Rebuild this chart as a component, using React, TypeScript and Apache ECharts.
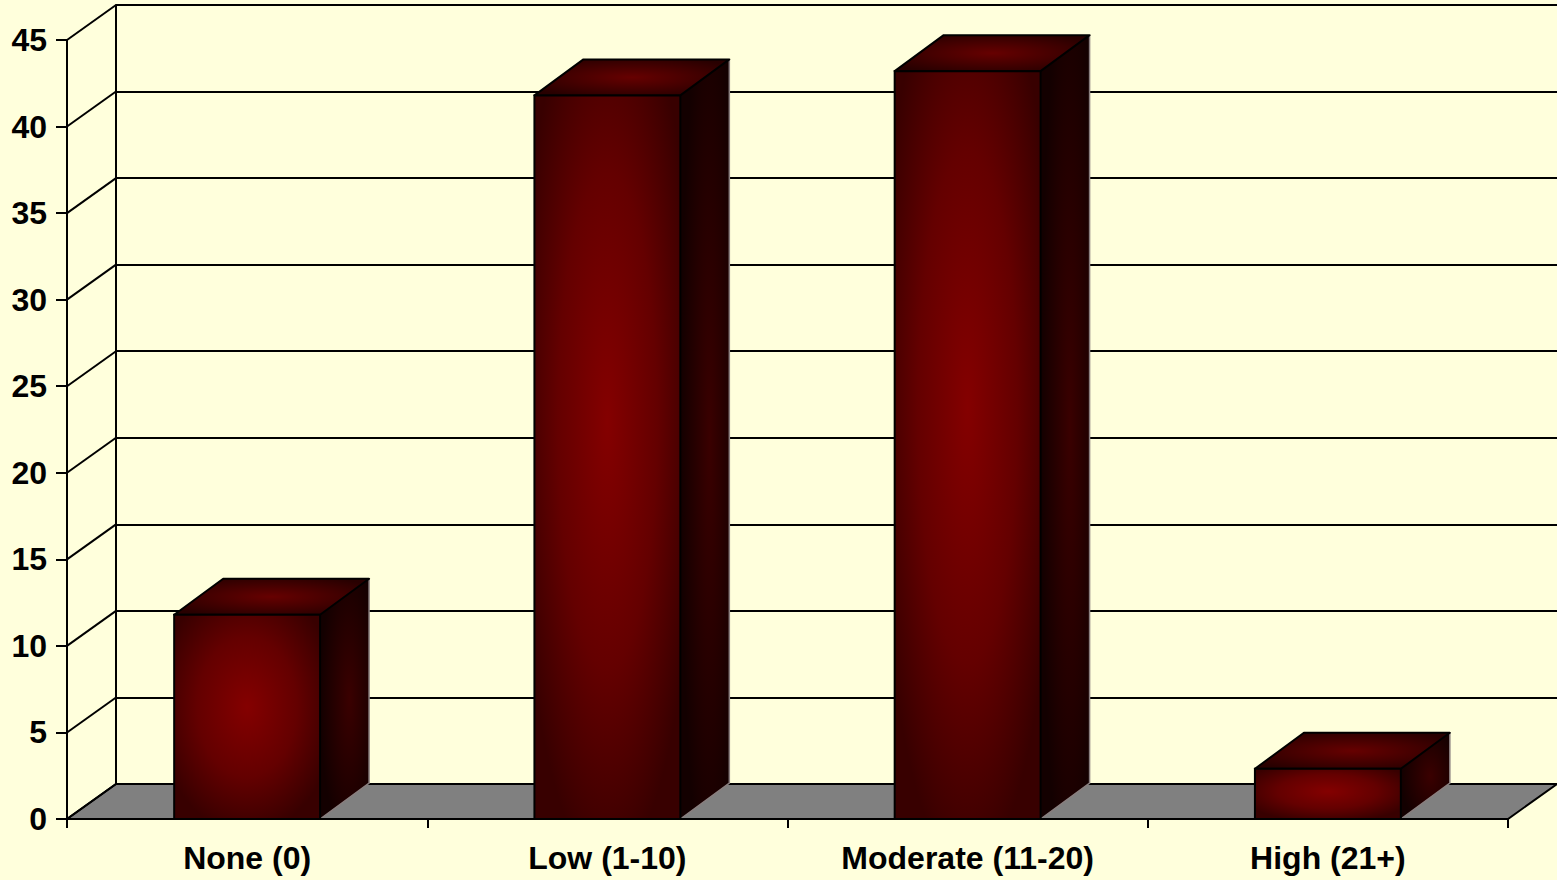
import React, { useEffect, useRef } from 'react';
import * as echarts from 'echarts';

const categories = ['None (0)', 'Low (1-10)', 'Moderate (11-20)', 'High (21+)'];
const values = [11.8, 41.8, 43.2, 2.9];
const yTicks = [0, 5, 10, 15, 20, 25, 30, 35, 40, 45];

const DX = 49;
const DY = -35;
const BAR_DY = -36;
const BAR_RATIO = 0.405;
const FONT = "'Liberation Sans', Arial, sans-serif";

export default function App() {
  const ref = useRef<HTMLDivElement>(null);

  useEffect(() => {
    document.body.style.margin = '0';
    document.body.style.overflow = 'hidden';
    const chart = echarts.init(ref.current as HTMLDivElement, null, { renderer: 'svg' });

    const frontGrad = () =>
      new echarts.graphic.RadialGradient(0.5, 0.45, 0.62, [
        { offset: 0, color: '#840000' },
        { offset: 0.55, color: '#640000' },
        { offset: 1, color: '#380000' },
      ]);
    const topGrad = () =>
      new echarts.graphic.RadialGradient(0.5, 0.5, 0.6, [
        { offset: 0, color: '#660000' },
        { offset: 1, color: '#280000' },
      ]);
    const sideGrad = () =>
      new echarts.graphic.RadialGradient(0.6, 0.5, 0.6, [
        { offset: 0, color: '#3a0000' },
        { offset: 1, color: '#130000' },
      ]);

    const axisLineStyle = { color: '#000', width: 2 };

    const option = {
      animation: false,
      backgroundColor: '#FFFFDC',
      grid: [
        { left: 67, right: 49, top: 40, bottom: 61 },
        { left: 116, right: 0, top: 5, bottom: 96 },
      ],
      xAxis: [
        {
          type: 'category',
          gridIndex: 0,
          data: categories,
          boundaryGap: true,
          z: 10,
          axisLine: { show: true, lineStyle: axisLineStyle },
          axisTick: { show: true, length: 9, lineStyle: axisLineStyle },
          axisLabel: {
            interval: 0,
            color: '#000',
            fontFamily: FONT,
            fontWeight: 'bold',
            fontSize: 32,
            margin: 23,
          },
          splitLine: { show: false },
        },
        {
          type: 'category',
          gridIndex: 1,
          data: categories,
          show: false,
        },
      ],
      yAxis: [
        {
          type: 'value',
          gridIndex: 0,
          min: 0,
          max: 45,
          interval: 5,
          z: 10,
          axisLine: { show: true, lineStyle: axisLineStyle },
          axisTick: { show: true, length: 11, lineStyle: axisLineStyle },
          axisLabel: {
            color: '#000',
            fontFamily: FONT,
            fontWeight: 'bold',
            fontSize: 32,
            margin: 20,
          },
          splitLine: { show: false },
        },
        {
          type: 'value',
          gridIndex: 1,
          min: 0,
          max: 45,
          interval: 5,
          z: 0,
          axisLine: { show: true, lineStyle: axisLineStyle },
          axisTick: { show: false },
          axisLabel: { show: false },
          splitLine: { show: true, lineStyle: { color: '#000', width: 2 } },
        },
      ],
      series: [
        {
          type: 'custom',
          name: 'floor',
          xAxisIndex: 0,
          yAxisIndex: 0,
          z: 1,
          silent: true,
          data: [[0, 0]],
          renderItem: (params: any, api: any) => {
            const cs = params.coordSys;
            const yb = cs.y + cs.height;
            const children: any[] = [
              {
                type: 'polygon',
                shape: {
                  points: [
                    [cs.x, yb],
                    [cs.x + cs.width, yb],
                    [cs.x + cs.width + DX, yb + DY],
                    [cs.x + DX, yb + DY],
                  ],
                },
                style: { fill: '#808080', stroke: '#000', lineWidth: 2 },
              },
            ];
            yTicks.forEach((v) => {
              const p = api.coord([0, v]);
              children.push({
                type: 'line',
                shape: { x1: cs.x, y1: p[1], x2: cs.x + DX, y2: p[1] + DY },
                style: { stroke: '#000', lineWidth: 2 },
              });
            });
            return { type: 'group', children };
          },
        },
        {
          type: 'custom',
          name: 'bars',
          xAxisIndex: 0,
          yAxisIndex: 0,
          z: 5,
          data: categories.map((c, i) => [i, values[i]]),
          encode: { x: 0, y: 1 },
          renderItem: (params: any, api: any) => {
            const i = api.value(0);
            const v = api.value(1);
            const top = api.coord([i, v]);
            const base = api.coord([i, 0]);
            const bw = api.size([1, 0])[0] * BAR_RATIO;
            const x0 = top[0] - bw / 2;
            const x1 = top[0] + bw / 2;
            const yt = top[1];
            const yb = base[1];
            return {
              type: 'group',
              children: [
                {
                  type: 'polygon',
                  shape: {
                    points: [
                      [x1, yt],
                      [x1 + DX, yt + BAR_DY],
                      [x1 + DX, yb + BAR_DY],
                      [x1, yb],
                    ],
                  },
                  style: { fill: sideGrad(), stroke: null },
                },
                {
                  type: 'polyline',
                  shape: {
                    points: [
                      [x1 + DX, yt + BAR_DY],
                      [x1 + DX, yb + BAR_DY],
                      [x1, yb],
                    ],
                  },
                  style: { fill: null, stroke: '#8a7f7f', lineWidth: 1.5 },
                },
                {
                  type: 'polygon',
                  shape: {
                    points: [
                      [x0, yt],
                      [x1, yt],
                      [x1 + DX, yt + BAR_DY],
                      [x0 + DX, yt + BAR_DY],
                    ],
                  },
                  style: { fill: topGrad(), stroke: '#000', lineWidth: 2, lineJoin: 'round' },
                },
                {
                  type: 'rect',
                  shape: { x: x0, y: yt, width: bw, height: yb - yt },
                  style: { fill: frontGrad(), stroke: '#000', lineWidth: 2 },
                },
              ],
            };
          },
        },
      ],
    };

    chart.setOption(option as any);
    return () => {
      chart.dispose();
    };
  }, []);

  return <div ref={ref} style={{ width: 1557, height: 880 }} />;
}
